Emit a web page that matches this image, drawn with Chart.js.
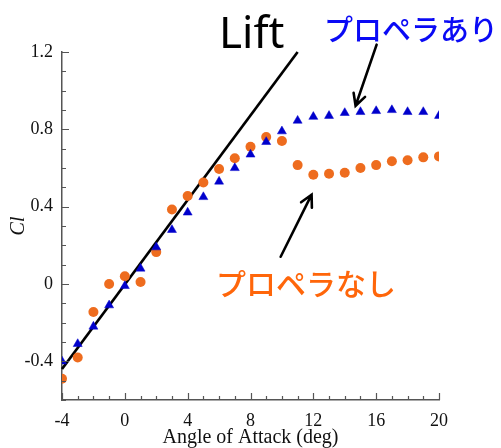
<!DOCTYPE html>
<html>
<head>
<meta charset="utf-8">
<script src="https://cdn.jsdelivr.net/npm/chart.js@4.4.1/dist/chart.umd.min.js"></script>
<style>
  html, body { margin: 0; padding: 0; background: #ffffff; }
  #c { display: block; }
</style>
</head>
<body>
<canvas id="c" width="501" height="448"></canvas>
<script>
// Angle of attack (deg) for each measured point
const angles = [-4, -3, -2, -1, 0, 1, 2, 3, 4, 5, 6, 7, 8, 9, 10, 11, 12, 13, 14, 15, 16, 17, 18, 19, 20];

// Lift coefficient with propeller (blue triangles)
const clWithProp = [-0.40, -0.31, -0.22, -0.11, -0.01, 0.08, 0.19, 0.28, 0.37, 0.45, 0.53, 0.60, 0.67, 0.735, 0.79,
                    0.845, 0.865, 0.87, 0.885, 0.89, 0.895, 0.90, 0.89, 0.89, 0.87];

// Lift coefficient without propeller (orange circles)
const clNoProp = [-0.49, -0.38, -0.145, 0.00, 0.04, 0.01, 0.165, 0.385, 0.455, 0.525, 0.595, 0.65, 0.71, 0.76, 0.74,
                  0.615, 0.565, 0.57, 0.575, 0.60, 0.615, 0.635, 0.64, 0.655, 0.66];

// Theoretical lift line (two end points)
const liftAngles = [-4, 11];
const liftCl = [-0.44, 1.2];

// Axis ranges and labelled tick values
const xRange = [-4, 20];
const yRange = [-0.6, 1.2];
const xTickLabels = [-4, 0, 4, 8, 12, 16, 20];
const yTickLabels = [-0.4, 0, 0.4, 0.8, 1.2];

// Callout arrows, in data units: [fromAngle, fromCl, toAngle, toCl]
const arrowWithProp = [16.03, 1.238, 14.69, 0.922];
const arrowNoProp = [9.92, 0.141, 11.89, 0.462];

const toPoints = (xs, ys) => xs.map((x, i) => ({ x: x, y: ys[i] }));
const isLabelled = (list, v) => list.some(t => Math.abs(t - v) < 1e-6);

// Inward-pointing tick marks on both axes
const inwardTicks = {
  id: 'inwardTicks',
  afterDraw(chart) {
    const ctx = chart.ctx;
    const xs = chart.scales.x, ys = chart.scales.y;
    const left = chart.chartArea.left, bottom = chart.chartArea.bottom;
    ctx.save();
    ctx.strokeStyle = '#555555';
    ctx.lineWidth = 1.2;
    ctx.beginPath();
    for (let v = xRange[0]; v <= xRange[1]; v++) {
      const px = Math.round(xs.getPixelForValue(v)) + 0.5;
      const len = isLabelled(xTickLabels, v) ? 7 : 4;
      ctx.moveTo(px, bottom);
      ctx.lineTo(px, bottom - len);
    }
    for (let k = -6; k <= 12; k++) {
      const v = k / 10;
      const py = Math.round(ys.getPixelForValue(v)) + 0.5;
      const len = isLabelled(yTickLabels, v) ? 7 : 4;
      ctx.moveTo(left, py);
      ctx.lineTo(left + len, py);
    }
    ctx.stroke();
    ctx.restore();
  }
};

// Arrows and text callouts
function drawArrow(ctx, x1, y1, x2, y2) {
  const ang = Math.atan2(y2 - y1, x2 - x1);
  const head = 13, spread = Math.PI / 6.5;
  ctx.beginPath();
  ctx.moveTo(x1, y1);
  ctx.lineTo(x2, y2);
  ctx.moveTo(x2 - head * Math.cos(ang - spread), y2 - head * Math.sin(ang - spread));
  ctx.lineTo(x2, y2);
  ctx.lineTo(x2 - head * Math.cos(ang + spread), y2 - head * Math.sin(ang + spread));
  ctx.stroke();
}

const callouts = {
  id: 'callouts',
  afterDraw(chart) {
    const ctx = chart.ctx;
    const xs = chart.scales.x, ys = chart.scales.y;
    ctx.save();
    ctx.strokeStyle = '#000000';
    ctx.lineWidth = 2.6;
    ctx.lineCap = 'round';
    ctx.lineJoin = 'miter';
    for (const a of [arrowWithProp, arrowNoProp]) {
      drawArrow(ctx, xs.getPixelForValue(a[0]), ys.getPixelForValue(a[1]),
                     xs.getPixelForValue(a[2]), ys.getPixelForValue(a[3]));
    }
    ctx.textAlign = 'left';
    ctx.textBaseline = 'alphabetic';
    ctx.fillStyle = '#000000';
    ctx.font = '44px "Noto Sans", sans-serif';
    ctx.fillText('Lift', 219, 48);
    ctx.textBaseline = 'middle';
    ctx.fillStyle = '#0A0AF5';
    ctx.font = '500 29px "Noto Sans CJK JP", sans-serif';
    ctx.fillText('プロペラあり', 324, 30);
    ctx.fillStyle = '#FF660A';
    ctx.font = '500 30px "Noto Sans CJK JP", sans-serif';
    ctx.fillText('プロペラなし', 216, 284);
    ctx.restore();
  }
};

const serif = '"Liberation Serif", "Times New Roman", serif';

new Chart(document.getElementById('c'), {
  type: 'scatter',
  data: {
    datasets: [
      {
        label: 'プロペラあり',
        data: toPoints(angles, clWithProp),
        pointStyle: 'triangle',
        pointRadius: 5.2,
        backgroundColor: '#0000CC',
        borderColor: '#0000CC',
        borderWidth: 0.5,
        showLine: false
      },
      {
        label: 'プロペラなし',
        data: toPoints(angles, clNoProp),
        pointStyle: 'circle',
        pointRadius: 5,
        backgroundColor: '#EE6C1E',
        borderColor: '#EE6C1E',
        borderWidth: 0,
        showLine: false
      },
      {
        label: 'Lift',
        type: 'line',
        data: toPoints(liftAngles, liftCl),
        borderColor: '#000000',
        borderWidth: 2.7,
        pointRadius: 0,
        fill: false,
        clip: false
      }
    ]
  },
  options: {
    responsive: false,
    animation: false,
    devicePixelRatio: 1,
    layout: { padding: { top: 52, right: 62, left: 0, bottom: 0 } },
    plugins: { legend: { display: false }, tooltip: { enabled: false } },
    scales: {
      x: {
        type: 'linear',
        min: xRange[0], max: xRange[1],
        afterFit(scale) { scale.height = 48; },
        grid: { display: true, drawOnChartArea: false, drawTicks: false },
        border: { display: true, color: '#555555', width: 1.5 },
        ticks: {
          stepSize: 1, autoSkip: false, maxRotation: 0, padding: 10,
          color: '#111111',
          font: { family: serif, size: 18 },
          callback: v => isLabelled(xTickLabels, v) ? String(v) : ''
        },
        title: {
          display: true, text: 'Angle of Attack (deg)', color: '#111111',
          font: { family: serif, size: 20, lineHeight: 1 },
          padding: { top: 0, bottom: 0 }
        }
      },
      y: {
        type: 'linear',
        min: yRange[0], max: yRange[1],
        afterFit(scale) { scale.width = 62; },
        grid: { display: true, drawOnChartArea: false, drawTicks: false },
        border: { display: true, color: '#555555', width: 1.5 },
        ticks: {
          stepSize: 0.1, autoSkip: false, padding: 9,
          color: '#111111',
          font: { family: serif, size: 18 },
          callback: v => {
            const r = Math.round(v * 10) / 10;
            return isLabelled(yTickLabels, r) ? String(r) : '';
          }
        },
        title: {
          display: true, text: 'Cl', color: '#111111',
          font: { family: serif, size: 20, style: 'italic', lineHeight: 1 },
          padding: { top: 9, bottom: 0 }
        }
      }
    }
  },
  plugins: [inwardTicks, callouts]
});
</script>
</body>
</html>
